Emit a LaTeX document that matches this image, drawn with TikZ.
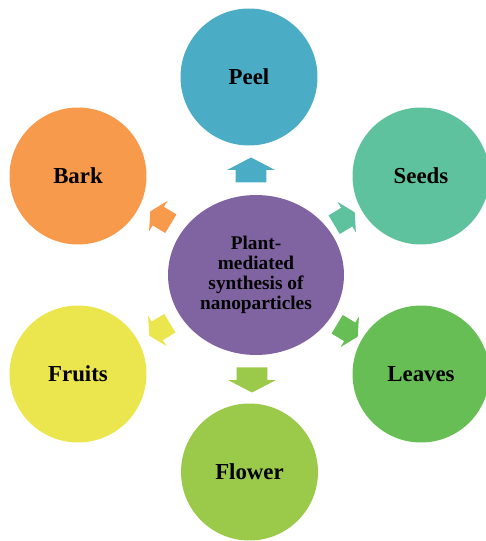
\documentclass[tikz,border=0pt]{standalone}
\usepackage{fontspec}
\setmainfont{Liberation Serif}
\usetikzlibrary{shapes.geometric, shapes.arrows}
\usepackage{xcolor}
\definecolor{hubpurple}{HTML}{8064A2}
\definecolor{peelblue}{HTML}{4BACC6}
\definecolor{seedteal}{HTML}{5FC29F}
\definecolor{leafgreen}{HTML}{67BE55}
\definecolor{flowergreen}{HTML}{9BC94A}
\definecolor{fruityellow}{HTML}{EBE64E}
\definecolor{barkorange}{HTML}{F79A4B}

\begin{document}
\begin{tikzpicture}[x=0.02cm, y=0.02cm,
    part/.style={circle, minimum size=2.74cm, inner sep=0pt,
                 font=\fontsize{13}{15}\selectfont\bfseries},
    pointer/.style={single arrow, inner xsep=0pt, inner ysep=0.3cm,
                    minimum height=0.5cm, single arrow head extend=0.17cm,
                    single arrow tip angle=125},
    slant/.style={pointer, inner ysep=0.21cm, minimum height=0.48cm,
                  single arrow head extend=0.14cm}]
      \useasboundingbox (0,0) rectangle (486,541);
      % Central hub
      \node[ellipse, fill=hubpurple, minimum width=3.52cm, minimum height=3.2cm,
            inner sep=0pt, align=center,
            font=\fontsize{11}{11.4}\selectfont\bfseries] (hub) at (256,266)
            {Plant-\\mediated\\synthesis of\\nanoparticles};
      % Plant parts
      \node[part, fill=peelblue] (peel) at (249,464) {Peel};
      \node[part, fill=seedteal] (seeds) at (421,365) {Seeds};
      \node[part, fill=leafgreen] (leaves) at (421,167) {Leaves};
      \node[part, fill=flowergreen] (flower) at (249.5,69) {Flower};
      \node[part, fill=fruityellow] (fruits) at (78,167) {Fruits};
      \node[part, fill=barkorange] (bark) at (78,365) {Bark};
      % Block arrows pointing out of the hub
      \node[pointer, fill=peelblue, rotate=90] (topeel) at (251,367) {};
      \node[pointer, fill=flowergreen, rotate=-90] (toflower) at (252,165) {};
      \node[slant, fill=seedteal, rotate=31] (toseeds) at (342,321) {};
      \node[slant, fill=leafgreen, rotate=-31] (toleaves) at (345,212) {};
      \node[slant, fill=fruityellow, rotate=211] (tofruits) at (162,213) {};
      \node[slant, fill=barkorange, rotate=149] (tobark) at (163,322) {};
    \end{tikzpicture}
\end{document}
